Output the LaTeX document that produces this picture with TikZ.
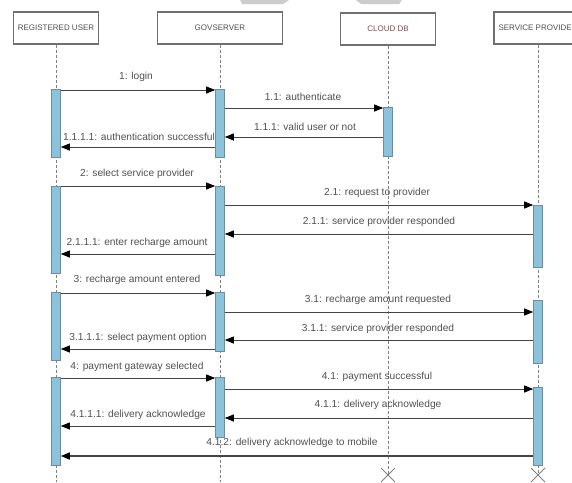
\documentclass[tikz,border=0pt]{standalone}
\usepackage{fontspec}
\setmainfont{Liberation Sans}
\usetikzlibrary{arrows.meta,shapes.misc}
\definecolor{barblue}{HTML}{8CC3DC}
\definecolor{baredge}{HTML}{6E8C9A}
\definecolor{boxedge}{HTML}{707070}
\definecolor{txtgray}{HTML}{505050}
\definecolor{linegray}{HTML}{444444}
\definecolor{dbtext}{HTML}{7A5050}
\begin{document}
\begin{tikzpicture}[x=1pt,y=-1pt,
  head/.style={draw=boxedge,line width=1.3pt,fill=white,minimum height=32pt,
    inner sep=0pt,font=\fontsize{8}{9}\selectfont,text=txtgray},
  bar/.style={draw=baredge,line width=0.6pt,fill=barblue,minimum width=9pt,
    inner sep=0pt,anchor=north},
  life/.style={draw=gray,dashed,line width=0.7pt,dash pattern=on 3pt off 2pt},
  msg/.style={draw=linegray,line width=0.9pt,
    -{Triangle[length=9pt,width=7pt,color=black]}},
  lbl/.style={font=\fontsize{10.2}{12}\selectfont,text=txtgray,inner sep=0pt},
  endx/.style={draw=gray,cross out,line width=1pt,minimum size=13pt,inner sep=0pt}]
\useasboundingbox (0,0) rectangle (572,482);
\clip (0,0) rectangle (572,482);

% grey tabs along the top edge
\fill[gray!40] (240,0) -- (242,4) -- (283,4) -- (289,0) -- cycle;
\fill[gray!40] (356,0) -- (361,4) -- (399,4) -- (402,0) -- cycle;

% participants
\node[head,minimum width=85pt] (user) at (56,28) {REGISTERED USER};
\node[head,minimum width=125pt] (gov) at (220,28) {GOVSERVER};
\node[head,minimum width=95pt,text=dbtext] (cloud) at (388,29) {CLOUD DB};
\node[head,minimum width=88pt] (sp) at (538,28) {SERVICE PROVIDER};

% lifeline ends
\coordinate (userend) at (56,482);
\coordinate (govend) at (220,482);
\node[endx] (cloudx) at (388,475) {};
\node[endx] (spx) at (538,475) {};

\draw[life] (user.south) -- (userend);
\draw[life] (gov.south) -- (govend);
\draw[life] (cloud.south) -- (cloudx.center);
\draw[life] (sp.south) -- (spx.center);

% activation bars
\node[bar,minimum height=68pt] (ub1) at (56,89) {};
\node[bar,minimum height=87pt] (ub2) at (56,186) {};
\node[bar,minimum height=68pt] (ub3) at (56,292) {};
\node[bar,minimum height=88pt] (ub4) at (56,377) {};
\node[bar,minimum height=68pt] (gb1) at (220,89) {};
\node[bar,minimum height=89pt] (gb2) at (220,186) {};
\node[bar,minimum height=59pt] (gb3) at (220,292) {};
\node[bar,minimum height=60pt] (gb4) at (220,377) {};
\node[bar,minimum height=49pt] (cb1) at (388,107) {};
\node[bar,minimum height=62pt] (sb2) at (538,205) {};
\node[bar,minimum height=63pt] (sb3) at (538,300) {};
\node[bar,minimum height=78pt] (sb4) at (538,387) {};

% messages
\draw[msg] (ub1.east |- 0,90) -- (gb1.west |- 0,90);
\draw[msg] (gb1.east |- 0,108) -- (cb1.west |- 0,108);
\draw[msg] (cb1.west |- 0,137) -- (gb1.east |- 0,137);
\draw[msg] (gb1.west |- 0,147) -- (ub1.east |- 0,147);

\draw[msg] (ub2.east |- 0,186) -- (gb2.west |- 0,186);
\draw[msg] (gb2.east |- 0,205) -- (sb2.west |- 0,205);
\draw[msg] (sb2.west |- 0,234) -- (gb2.east |- 0,234);
\draw[msg] (gb2.west |- 0,254) -- (ub2.east |- 0,254);

\draw[msg] (ub3.east |- 0,293) -- (gb3.west |- 0,293);
\draw[msg] (gb3.east |- 0,312) -- (sb3.west |- 0,312);
\draw[msg] (sb3.west |- 0,340) -- (gb3.east |- 0,340);
\draw[msg] (gb3.west |- 0,349) -- (ub3.east |- 0,349);

\draw[msg] (ub4.east |- 0,378) -- (gb4.west |- 0,378);
\draw[msg] (gb4.east |- 0,389) -- (sb4.west |- 0,389);
\draw[msg] (sb4.west |- 0,418) -- (gb4.east |- 0,418);
\draw[msg] (gb4.west |- 0,426) -- (ub4.east |- 0,426);
\draw[msg,line width=1.5pt] (sb4.west |- 0,456) -- (ub4.east |- 0,456);

% message labels
\node[lbl] (m1) at (136,77) {1: login};
\node[lbl] (m11) at (303,97) {1.1: authenticate};
\node[lbl] (m111) at (305,127) {1.1.1: valid user or not};
\node[lbl] (m1111) at (139,137) {1.1.1.1: authentication successful};

\node[lbl] (m2) at (137,174) {2: select service provider};
\node[lbl] (m21) at (377,193) {2.1: request to provider};
\node[lbl] (m211) at (379,222) {2.1.1: service provider responded};
\node[lbl] (m2111) at (137,243) {2.1.1.1: enter recharge amount};

\node[lbl] (m3) at (137,280) {3: recharge amount entered};
\node[lbl] (m31) at (378,300) {3.1: recharge amount requested};
\node[lbl] (m311) at (378,329) {3.1.1: service provider responded};
\node[lbl] (m3111) at (138,338) {3.1.1.1: select payment option};

\node[lbl] (m4) at (137,367) {4: payment gateway selected};
\node[lbl] (m41) at (377,377) {4.1: payment successful};
\node[lbl] (m411) at (378,405) {4.1.1: delivery acknowledge};
\node[lbl] (m4111) at (138,415) {4.1.1.1: delivery acknowledge};
\node[lbl] (m412) at (292,443) {4.1.2: delivery acknowledge to mobile};
\end{tikzpicture}
\end{document}
